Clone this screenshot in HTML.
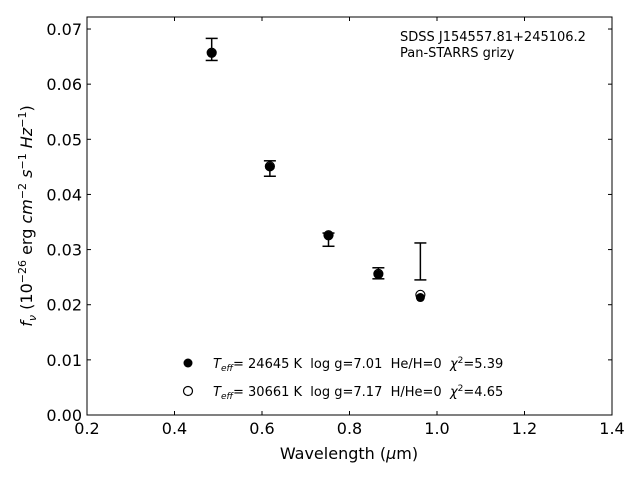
<!DOCTYPE html>
<html><head><meta charset="utf-8"><style>
body{margin:0;background:#fff}
svg{font-family:"DejaVu Sans","Liberation Sans",sans-serif}
text{white-space:pre}
</style></head><body>
<svg id="c" width="640" height="480" xmlns="http://www.w3.org/2000/svg">
<rect width="640" height="480" fill="#fff"/>
<g id="marks"></g>
<rect x="87" y="17" width="525" height="398" fill="none" stroke="#000" stroke-width="1"/>
<g id="axes"></g>
<text x="400" y="41" font-size="13">SDSS J154557.81+245106.2</text>
<text x="400" y="57" font-size="13">Pan-STARRS grizy</text>
<text x="349" y="459" font-size="16" text-anchor="middle">Wavelength (<tspan font-style="italic">μ</tspan>m)</text>
<text transform="translate(32,216) rotate(-90)" font-size="16" text-anchor="middle"><tspan font-style="italic">f<tspan font-size="11" dy="4">ν</tspan></tspan><tspan dy="-4"> (10</tspan><tspan font-size="11" dy="-6">−26</tspan><tspan dy="6"> erg </tspan><tspan font-style="italic">cm</tspan><tspan font-size="11" dy="-6">−2</tspan><tspan dy="6"> </tspan><tspan font-style="italic">s</tspan><tspan font-size="11" dy="-6">−1</tspan><tspan dy="6"> </tspan><tspan font-style="italic">Hz</tspan><tspan font-size="11" dy="-6">−1</tspan><tspan dy="6">)</tspan></text>
<g>
<circle cx="188" cy="363" r="4.5" fill="#000"/>
<text x="213" y="368" font-size="13"><tspan font-style="italic">T</tspan><tspan font-size="9" dy="3" font-style="italic">eff</tspan><tspan dy="-3">= 24645 K  log g=7.01  He/H=0  </tspan><tspan font-style="italic">χ</tspan><tspan font-size="9" dy="-5">2</tspan><tspan dy="5">=5.39</tspan></text>
<circle cx="188" cy="391" r="4.5" fill="#fff" stroke="#000" stroke-width="1.2"/>
<text x="213" y="396" font-size="13"><tspan font-style="italic">T</tspan><tspan font-size="9" dy="3" font-style="italic">eff</tspan><tspan dy="-3">= 30661 K  log g=7.17  H/He=0  </tspan><tspan font-style="italic">χ</tspan><tspan font-size="9" dy="-5">2</tspan><tspan dy="5">=4.65</tspan></text>
</g>
</svg>
<script>
const wavelengths=[0.485,0.618,0.752,0.866,0.962];
const obsLow=[0.0643,0.0433,0.0306,0.0247,0.0245];
const obsHigh=[0.0683,0.0461,0.0330,0.0267,0.0312];
const modelH=[0.0656,0.0450,0.0325,0.0255,0.0213];
const modelHe=[0.0657,0.0451,0.0326,0.0256,0.0218];
const xTicks=[0.2,0.4,0.6,0.8,1.0,1.2,1.4];
const yTicks=[0,0.01,0.02,0.03,0.04,0.05,0.06,0.07];
const xTickLabels=["0.2","0.4","0.6","0.8","1.0","1.2","1.4"];
const yTickLabels=["0.00","0.01","0.02","0.03","0.04","0.05","0.06","0.07"];
const X=v=>87+(v-0.2)*437.5;
const Y=v=>415-v*5514;
const NS="http://www.w3.org/2000/svg";
function mk(tag,attrs,parent){const e=document.createElementNS(NS,tag);for(const k in attrs)e.setAttribute(k,attrs[k]);parent.appendChild(e);return e;}
const marks=document.getElementById('marks'),axes=document.getElementById('axes');
wavelengths.forEach((w,i)=>{
  const x=X(w);
  const g=mk('g',{},marks);
  
  
  mk('line',{x1:x,x2:x,y1:Y(obsLow[i]),y2:Y(obsHigh[i]),stroke:'#000','stroke-width':1.5},g);
  mk('line',{x1:x-6,x2:x+6,y1:Y(obsLow[i]),y2:Y(obsLow[i]),stroke:'#000','stroke-width':1.5},g);
  mk('line',{x1:x-6,x2:x+6,y1:Y(obsHigh[i]),y2:Y(obsHigh[i]),stroke:'#000','stroke-width':1.5},g);
  const o=mk('circle',{cx:x,cy:Y(modelHe[i]),r:4.5,fill:'#fff',stroke:'#000','stroke-width':1.2},marks);
  
  
  const f=mk('circle',{cx:x,cy:Y(modelH[i]),r:4.5,fill:'#000'},marks);
  
  
});
xTicks.forEach((t,i)=>{
  const x=X(t);
  mk('line',{x1:x,x2:x,y1:415,y2:411,stroke:'#000'},axes);
  mk('line',{x1:x,x2:x,y1:17,y2:21,stroke:'#000'},axes);
  const tx=mk('text',{x:x,y:434,'font-size':16,'text-anchor':'middle'},axes);
  tx.textContent=xTickLabels[i];
  
  
});
yTicks.forEach((t,i)=>{
  const y=Y(t);
  mk('line',{x1:87,x2:91,y1:y,y2:y,stroke:'#000'},axes);
  mk('line',{x1:612,x2:608,y1:y,y2:y,stroke:'#000'},axes);
  const tx=mk('text',{x:82,y:y+6,'font-size':16,'text-anchor':'end'},axes);
  tx.textContent=yTickLabels[i];
  
  
});
</script>
</body></html>
